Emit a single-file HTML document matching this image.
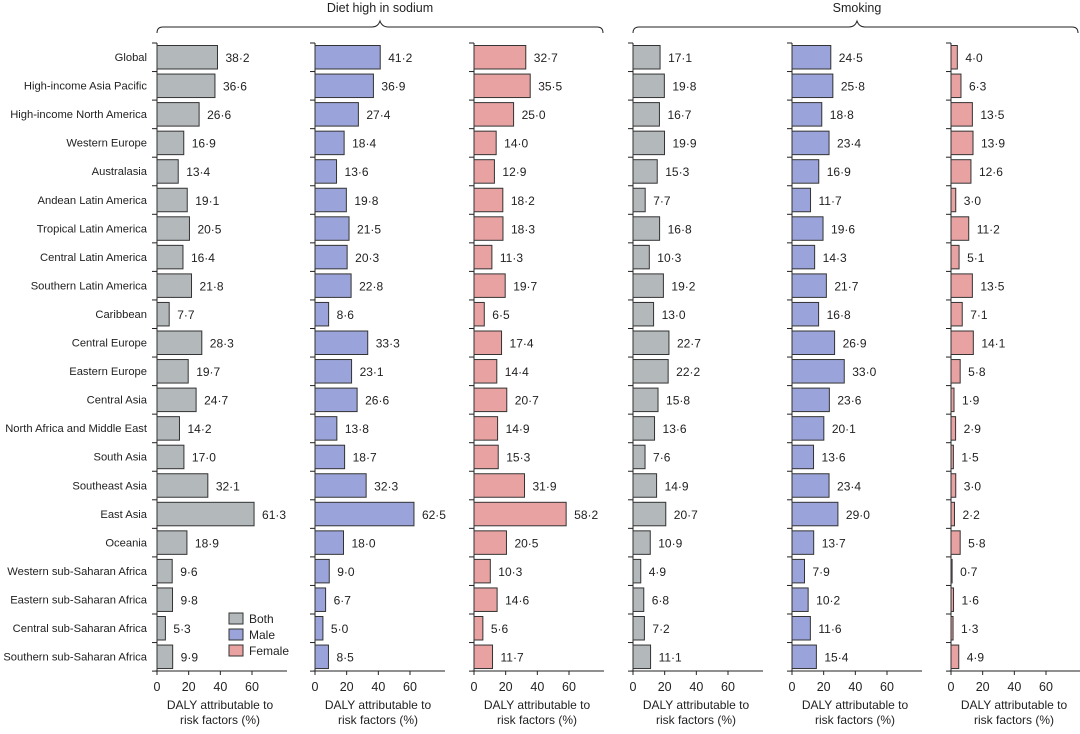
<!DOCTYPE html>
<html><head><meta charset="utf-8">
<style>
body{margin:0;background:#fff;font-family:"Liberation Sans",sans-serif;}
svg text{font-family:"Liberation Sans",sans-serif;fill:#222;}
</style></head>
<body>
<svg id="chart" width="1080" height="729" viewBox="0 0 1080 729" xmlns="http://www.w3.org/2000/svg">
<text x="380" y="12" font-size="12.5" text-anchor="middle">Diet high in sodium</text>
<path d="M157,33 Q157,27 163,27 L372,27 Q378,27 380,21 Q382,27 388,27 L597,27 Q603,27 603,33" fill="none" stroke="#222" stroke-width="1"/>
<text x="857" y="12" font-size="12.5" text-anchor="middle">Smoking</text>
<path d="M633,33 Q633,27 639,27 L849,27 Q855,27 857,21 Q859,27 865,27 L1072,27 Q1078,27 1078,33" fill="none" stroke="#222" stroke-width="1"/>
<g id="plots"></g>
<g>
<rect x="229" y="613" width="14" height="11" fill="#b3b8bb" stroke="#333"/>
<text x="249" y="623" font-size="12">Both</text>
<rect x="229" y="629" width="14" height="11" fill="#9ba4da" stroke="#333"/>
<text x="249" y="639" font-size="12">Male</text>
<rect x="229" y="645" width="14" height="11" fill="#e8a2a2" stroke="#333"/>
<text x="249" y="655" font-size="12">Female</text>
</g>
</svg>
<script>
const regions=["Global","High-income Asia Pacific","High-income North America","Western Europe","Australasia","Andean Latin America","Tropical Latin America","Central Latin America","Southern Latin America","Caribbean","Central Europe","Eastern Europe","Central Asia","North Africa and Middle East","South Asia","Southeast Asia","East Asia","Oceania","Western sub-Saharan Africa","Eastern sub-Saharan Africa","Central sub-Saharan Africa","Southern sub-Saharan Africa"];
const sodiumBoth=[38.2,36.6,26.6,16.9,13.4,19.1,20.5,16.4,21.8,7.7,28.3,19.7,24.7,14.2,17.0,32.1,61.3,18.9,9.6,9.8,5.3,9.9];
const sodiumMale=[41.2,36.9,27.4,18.4,13.6,19.8,21.5,20.3,22.8,8.6,33.3,23.1,26.6,13.8,18.7,32.3,62.5,18.0,9.0,6.7,5.0,8.5];
const sodiumFemale=[32.7,35.5,25.0,14.0,12.9,18.2,18.3,11.3,19.7,6.5,17.4,14.4,20.7,14.9,15.3,31.9,58.2,20.5,10.3,14.6,5.6,11.7];
const smokingBoth=[17.1,19.8,16.7,19.9,15.3,7.7,16.8,10.3,19.2,13.0,22.7,22.2,15.8,13.6,7.6,14.9,20.7,10.9,4.9,6.8,7.2,11.1];
const smokingMale=[24.5,25.8,18.8,23.4,16.9,11.7,19.6,14.3,21.7,16.8,26.9,33.0,23.6,20.1,13.6,23.4,29.0,13.7,7.9,10.2,11.6,15.4];
const smokingFemale=[4.0,6.3,13.5,13.9,12.6,3.0,11.2,5.1,13.5,7.1,14.1,5.8,1.9,2.9,1.5,3.0,2.2,5.8,0.7,1.6,1.3,4.9];
const xTicks=[0,20,40,60];
const panelSeries=[sodiumBoth,sodiumMale,sodiumFemale,smokingBoth,smokingMale,smokingFemale];
const panelNames=["sodium-both","sodium-male","sodium-female","smoking-both","smoking-male","smoking-female"];
const colors=["#b3b8bb","#9ba4da","#e8a2a2","#b3b8bb","#9ba4da","#e8a2a2"];
const origins=[157,315,474,633,792,951];
const NS="http://www.w3.org/2000/svg";
const top0=43,rowH=28.55,axisY=671,scale=95/60;
const g=document.getElementById('plots');
function mk(t,a,p){const e=document.createElementNS(NS,t);for(const k in a)e.setAttribute(k,a[k]);(p||g).appendChild(e);return e;}
function rowY(i){return top0+i*rowH;}
panelSeries.forEach((vals,p)=>{
  const x0=origins[p];
  const xs=v=>x0+v*scale;
  const pg=mk('g',{});
  
  
  const ax=mk('line',{x1:x0,y1:top0,x2:x0,y2:axisY,stroke:'#222','stroke-width':1},pg);
  
  
  const hx=mk('line',{x1:x0-2,y1:axisY,x2:x0+130,y2:axisY,stroke:'#222','stroke-width':1},pg);
  
  
  for(let i=0;i<=regions.length;i++){
    const t=mk('line',{x1:x0-5,y1:rowY(i),x2:x0,y2:rowY(i),stroke:'#222'},pg);
    
    
  }
  xTicks.forEach(v=>{
    const tl=mk('line',{x1:xs(v),y1:axisY,x2:xs(v),y2:axisY+4,stroke:'#222'},pg);
    
    
    const tt=mk('text',{x:xs(v),y:axisY+20,'font-size':12.5,'text-anchor':'middle'},pg);
    tt.textContent=v;
    
    
  });
  const l1=mk('text',{x:x0+63,y:709,'font-size':12,'text-anchor':'middle'},pg);
  l1.textContent='DALY attributable to';
  
  
  const l2=mk('text',{x:x0+63,y:724,'font-size':12,'text-anchor':'middle'},pg);
  l2.textContent='risk factors (%)';
  
  
  vals.forEach((v,i)=>{
    const y=rowY(i)+2.5;
    const r=mk('rect',{x:x0,y:y,width:Math.max(v*scale,0.5),height:23.5,fill:colors[p],stroke:'#333','stroke-width':1},pg);
    
    
    const tx=mk('text',{x:xs(v)+8,y:rowY(i)+19,'font-size':12},pg);
    tx.textContent=v.toFixed(1).replace('.','·');
    
    
  });
});
regions.forEach((r,i)=>{
  const t=mk('text',{x:147,y:rowY(i)+18,'font-size':11.2,'text-anchor':'end'});
  t.textContent=r;
  
  
});
</script>
</body></html>
